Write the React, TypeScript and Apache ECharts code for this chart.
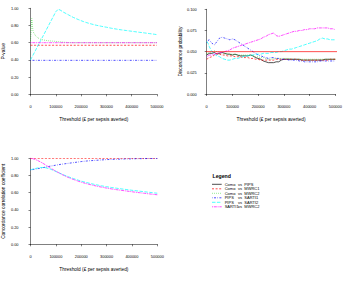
import React, { useEffect, useRef } from "react";
import * as echarts from "echarts";

// Willingness-to-pay thresholds (£ per sepsis averted)
const thresholds = [
  0, 5000, 10000, 20000, 30000, 40000, 50000, 60000, 70000, 80000, 90000,
  100000, 110000, 120000, 130000, 140000, 150000, 160000, 170000, 180000, 190000,
  200000, 210000, 220000, 230000, 240000, 250000, 260000, 270000, 280000, 290000,
  300000, 310000, 320000, 330000, 340000, 350000, 360000, 370000, 380000, 390000,
  400000, 410000, 420000, 430000, 440000, 450000, 460000, 470000, 480000, 490000,
  500000,
];

const comparisons = [
  "Como vs PIPS",
  "Como vs MWRC1",
  "Como vs MWRC2",
  "PIPS vs SARTI1",
  "PIPS vs SARTI2",
  "SARTI1 vs MWRC2",
];

const discordanceReference = 0.05;

// ---- P-value ----
const pValueComoMwrc1 = [
  0.57, 0.57, 0.57, 0.57, 0.57, 0.57, 0.57, 0.57, 0.57, 0.57, 0.57,
  0.57, 0.57, 0.57, 0.57, 0.57, 0.57, 0.57, 0.57, 0.57, 0.57,
  0.57, 0.57, 0.57, 0.57, 0.57, 0.57, 0.57, 0.57, 0.57, 0.57,
  0.57, 0.57, 0.57, 0.57, 0.57, 0.57, 0.57, 0.57, 0.57, 0.57,
  0.57, 0.57, 0.57, 0.57, 0.57, 0.57, 0.57, 0.57, 0.57, 0.57,
  0.57,
];
const pValueComoMwrc2 = [
  0.62, 0.88, 0.73, 0.68, 0.655, 0.64, 0.632, 0.627, 0.623, 0.62, 0.618,
  0.615, 0.612, 0.609, 0.606, 0.604, 0.602, 0.601, 0.6, 0.6, 0.6,
  0.6, 0.6, 0.6, 0.6, 0.6, 0.6, 0.6, 0.6, 0.6, 0.6,
  0.6, 0.6, 0.6, 0.6, 0.6, 0.6, 0.6, 0.6, 0.6, 0.6,
  0.6, 0.6, 0.6, 0.6, 0.6, 0.6, 0.6, 0.6, 0.6, 0.6,
  0.6,
];
const pValuePipsSarti1 = [
  0.395, 0.395, 0.395, 0.395, 0.395, 0.395, 0.395, 0.395, 0.395, 0.395, 0.395,
  0.395, 0.395, 0.395, 0.395, 0.395, 0.395, 0.395, 0.395, 0.395, 0.395,
  0.395, 0.395, 0.395, 0.395, 0.395, 0.395, 0.395, 0.395, 0.395, 0.395,
  0.395, 0.395, 0.395, 0.395, 0.395, 0.395, 0.395, 0.395, 0.395, 0.395,
  0.395, 0.395, 0.395, 0.395, 0.395, 0.395, 0.395, 0.395, 0.395, 0.395,
  0.395,
];
const pValuePipsSarti2 = [
  0.4, 0.428, 0.456, 0.512, 0.568, 0.624, 0.68, 0.736, 0.792, 0.848, 0.904,
  0.96, 0.99, 0.975, 0.955, 0.94, 0.924, 0.908, 0.893, 0.88, 0.868,
  0.856, 0.845, 0.835, 0.826, 0.818, 0.81, 0.803, 0.797, 0.791, 0.785,
  0.78, 0.774, 0.768, 0.763, 0.758, 0.753, 0.749, 0.745, 0.741, 0.737,
  0.733, 0.729, 0.725, 0.721, 0.718, 0.714, 0.71, 0.706, 0.702, 0.698,
  0.694,
];
const pValueSarti1Mwrc2 = [
  0.6, 0.6, 0.6, 0.6, 0.6, 0.6, 0.6, 0.6, 0.6, 0.6, 0.6,
  0.6, 0.6, 0.6, 0.6, 0.6, 0.6, 0.6, 0.6, 0.6, 0.6,
  0.6, 0.6, 0.6, 0.6, 0.6, 0.6, 0.6, 0.6, 0.6, 0.6,
  0.6, 0.6, 0.6, 0.6, 0.6, 0.6, 0.6, 0.6, 0.6, 0.6,
  0.6, 0.6, 0.6, 0.6, 0.6, 0.6, 0.6, 0.6, 0.6, 0.6,
  0.6,
];

// ---- Discordance probability ----
const discComoPips = [
  0.046, 0.047, 0.048, 0.048, 0.049, 0.047, 0.048, 0.049, 0.048, 0.047, 0.047,
  0.046, 0.047, 0.046, 0.045, 0.045, 0.045, 0.045, 0.046, 0.045, 0.043,
  0.042, 0.041, 0.039, 0.038, 0.037, 0.037, 0.037, 0.038, 0.038, 0.04,
  0.041, 0.041, 0.041, 0.041, 0.041, 0.041, 0.041, 0.04, 0.04, 0.04,
  0.04, 0.04, 0.04, 0.04, 0.04, 0.04, 0.041, 0.041, 0.041, 0.041,
  0.041,
];
const discComoMwrc1 = [
  0.041, 0.042, 0.043, 0.044, 0.046, 0.048, 0.047, 0.046, 0.046, 0.045, 0.045,
  0.045, 0.044, 0.044, 0.044, 0.043, 0.043, 0.043, 0.042, 0.042, 0.041,
  0.041, 0.04, 0.04, 0.04, 0.04, 0.04, 0.04, 0.041, 0.041, 0.041,
  0.041, 0.041, 0.041, 0.041, 0.041, 0.041, 0.04, 0.04, 0.04, 0.04,
  0.04, 0.04, 0.04, 0.04, 0.04, 0.04, 0.04, 0.04, 0.041, 0.041,
  0.041,
];
const discComoMwrc2 = [
  0.048, 0.048, 0.049, 0.05, 0.051, 0.05, 0.049, 0.049, 0.048, 0.048, 0.047,
  0.047, 0.047, 0.046, 0.046, 0.046, 0.046, 0.046, 0.046, 0.045, 0.044,
  0.044, 0.043, 0.043, 0.042, 0.041, 0.041, 0.042, 0.042, 0.042, 0.042,
  0.042, 0.042, 0.042, 0.041, 0.041, 0.041, 0.041, 0.041, 0.041, 0.041,
  0.041, 0.041, 0.041, 0.041, 0.041, 0.041, 0.041, 0.041, 0.041, 0.041,
  0.041,
];
const discPipsSarti1 = [
  0.061, 0.063, 0.064, 0.06, 0.058, 0.062, 0.066, 0.067, 0.066, 0.065, 0.064,
  0.065, 0.064, 0.062, 0.06, 0.058, 0.056, 0.054, 0.052, 0.05, 0.048,
  0.046, 0.045, 0.044, 0.043, 0.042, 0.043, 0.043, 0.042, 0.042, 0.041,
  0.041, 0.041, 0.04, 0.04, 0.04, 0.04, 0.039, 0.039, 0.038, 0.038,
  0.038, 0.038, 0.038, 0.038, 0.039, 0.039, 0.039, 0.039, 0.039, 0.039,
  0.039,
];
const discPipsSarti2 = [
  0.062, 0.06, 0.056, 0.05, 0.047, 0.045, 0.044, 0.042, 0.041, 0.04, 0.04,
  0.041, 0.042, 0.042, 0.043, 0.044, 0.045, 0.045, 0.046, 0.046, 0.047,
  0.047, 0.047, 0.048, 0.048, 0.048, 0.049, 0.049, 0.049, 0.05, 0.05,
  0.051, 0.052, 0.053, 0.053, 0.054, 0.055, 0.056, 0.057, 0.058, 0.059,
  0.06, 0.061, 0.062, 0.063, 0.065, 0.066, 0.065, 0.065, 0.064, 0.064,
  0.064,
];
const discSarti1Mwrc2 = [
  0.044, 0.045, 0.046, 0.046, 0.047, 0.048, 0.049, 0.049, 0.05, 0.051, 0.052,
  0.054, 0.055, 0.056, 0.057, 0.058, 0.059, 0.06, 0.061, 0.062, 0.063,
  0.064, 0.065, 0.067, 0.068, 0.07, 0.071, 0.072, 0.069, 0.068, 0.069,
  0.07, 0.071, 0.072, 0.073, 0.074, 0.074, 0.075, 0.075, 0.076, 0.076,
  0.077, 0.077, 0.077, 0.078, 0.078, 0.078, 0.078, 0.078, 0.077, 0.077,
  0.076,
];

// ---- Concordance correlation coefficient ----
const cccComoMwrc1 = [
  1, 1, 1, 1, 1, 1, 1, 1, 1, 1, 1,
  1, 1, 1, 1, 1, 1, 1, 1, 1, 1,
  1, 1, 1, 1, 1, 1, 1, 1, 1, 1,
  1, 1, 1, 1, 1, 1, 1, 1, 1, 1,
  1, 1, 1, 1, 1, 1, 1, 1, 1, 1,
  1,
];
const cccPipsSarti1 = [
  0.865, 0.867, 0.87, 0.875, 0.88, 0.886, 0.892, 0.898, 0.904, 0.91, 0.915,
  0.92, 0.925, 0.93, 0.934, 0.938, 0.942, 0.946, 0.95, 0.954, 0.958,
  0.962, 0.965, 0.968, 0.971, 0.973, 0.975, 0.977, 0.979, 0.981, 0.983,
  0.985, 0.986, 0.987, 0.988, 0.989, 0.99, 0.991, 0.992, 0.993, 0.993,
  0.994, 0.995, 0.995, 0.996, 0.996, 0.997, 0.997, 0.998, 0.998, 0.999,
  0.999,
];
const cccPipsSarti2 = [
  0.865, 0.87, 0.875, 0.882, 0.888, 0.892, 0.893, 0.89, 0.882, 0.872, 0.86,
  0.847, 0.834, 0.821, 0.808, 0.796, 0.785, 0.774, 0.764, 0.754, 0.744,
  0.735, 0.727, 0.719, 0.712, 0.705, 0.698, 0.692, 0.686, 0.68, 0.675,
  0.67, 0.665, 0.66, 0.656, 0.652, 0.648, 0.644, 0.64, 0.636, 0.632,
  0.628, 0.625, 0.621, 0.618, 0.614, 0.611, 0.607, 0.604, 0.6, 0.597,
  0.594,
];
const cccSarti1Mwrc2 = [
  1, 0.998, 0.995, 0.985, 0.972, 0.957, 0.94, 0.922, 0.903, 0.885, 0.867,
  0.85, 0.834, 0.818, 0.803, 0.789, 0.776, 0.764, 0.753, 0.742, 0.732,
  0.723, 0.714, 0.706, 0.698, 0.691, 0.684, 0.677, 0.671, 0.665, 0.659,
  0.654, 0.649, 0.644, 0.639, 0.635, 0.631, 0.627, 0.623, 0.619, 0.615,
  0.611, 0.607, 0.603, 0.6, 0.596, 0.593, 0.589, 0.586, 0.582, 0.579,
  0.576,
];

// R base palette with lty 1:6
const lineLook: Record<string, { color: string; dash: any }> = {
  "Como vs PIPS": { color: "#000000", dash: "solid" },
  "Como vs MWRC1": { color: "#FF0000", dash: [2, 1.6] },
  "Como vs MWRC2": { color: "#00CD00", dash: [0.6, 1.4] },
  "PIPS vs SARTI1": { color: "#0000FF", dash: [0.6, 1.4, 2, 1.4] },
  "PIPS vs SARTI2": { color: "#00FFFF", dash: [3.5, 1.4] },
  "SARTI1 vs MWRC2": { color: "#FF00FF", dash: [1, 0.8, 3, 0.8] },
};

const FONT = "'Liberation Sans', Arial, Helvetica, sans-serif";
const LINE_W = 0.7;

function curve(name: string, values: number[], idx: number) {
  const look = lineLook[name];
  return {
    type: "line",
    name,
    xAxisIndex: idx,
    yAxisIndex: idx,
    data: thresholds.map((t, i) => [t, values[i]]),
    symbol: "none",
    silent: true,
    lineStyle: { color: look.color, width: LINE_W, type: look.dash },
    itemStyle: { color: look.color },
  };
}

function xAxisFor(idx: number) {
  return {
    type: "value",
    gridIndex: idx,
    min: 0,
    max: 500000,
    interval: 100000,
    offset: 3,
    name: "Threshold (£ per sepsis averted)",
    nameLocation: "middle",
    nameGap: 19.5,
    nameTextStyle: { fontSize: 4.8, color: "#000", fontFamily: FONT },
    axisLine: { show: true, lineStyle: { color: "#000", width: 0.5 } },
    axisTick: { show: true, length: 2, lineStyle: { color: "#000", width: 0.5 } },
    axisLabel: {
      fontSize: 3.9,
      color: "#000",
      fontFamily: FONT,
      margin: 7.5,
      formatter: (v: number) => String(v),
      showMinLabel: true,
      showMaxLabel: true,
    },
    splitLine: { show: false },
  };
}

function yAxisFor(
  idx: number,
  name: string,
  max: number,
  interval: number,
  digits: number,
  offset: number
) {
  return {
    type: "value",
    gridIndex: idx,
    min: 0,
    max,
    interval,
    offset,
    name,
    nameLocation: "middle",
    nameGap: 17.5,
    nameTextStyle: { fontSize: 4.8, color: "#000", fontFamily: FONT },
    axisLine: { show: true, lineStyle: { color: "#000", width: 0.5 } },
    axisTick: { show: true, length: 2, lineStyle: { color: "#000", width: 0.5 } },
    axisLabel: {
      fontSize: 3.9,
      color: "#000",
      fontFamily: FONT,
      margin: 5,
      formatter: (v: number) => v.toFixed(digits),
      showMinLabel: true,
      showMaxLabel: true,
    },
    splitLine: { show: false },
  };
}

// Legend panel drawn R-style: a key line followed by three text columns
function legendGraphic() {
  const left = 212;
  const top = 184.3;
  const pitch = 4.5;
  const children: any[] = [
    {
      type: "text",
      x: 212.5,
      y: 175.5,
      style: {
        text: "Legend",
        fontSize: 5.2,
        fontWeight: "bold",
        fontFamily: FONT,
        fill: "#000",
        verticalAlign: "middle",
      },
    },
  ];
  comparisons.forEach((name, i) => {
    const y = top + i * pitch;
    const look = lineLook[name];
    const [a, b] = name.split(" vs ");
    children.push({
      type: "line",
      shape: { x1: left, y1: y, x2: left + 9.7, y2: y },
      style: {
        stroke: look.color,
        lineWidth: LINE_W,
        lineDash: look.dash === "solid" ? null : look.dash,
      },
    });
    [
      [a, 224.7],
      ["vs", 238],
      [b, 244.3],
    ].forEach(([t, x]) => {
      children.push({
        type: "text",
        x: x as number,
        y,
        style: {
          text: t as string,
          fontSize: 4,
          fontFamily: FONT,
          fill: "#000",
          verticalAlign: "middle",
        },
      });
    });
  });
  return [{ type: "group", children }];
}

export default function App() {
  const ref = useRef<HTMLDivElement>(null);

  useEffect(() => {
    if (!ref.current) return;
    const chart = echarts.init(ref.current, null, { renderer: "svg" });

    const series: any[] = [
      curve("Como vs MWRC1", pValueComoMwrc1, 0),
      curve("Como vs MWRC2", pValueComoMwrc2, 0),
      curve("PIPS vs SARTI1", pValuePipsSarti1, 0),
      curve("PIPS vs SARTI2", pValuePipsSarti2, 0),
      curve("SARTI1 vs MWRC2", pValueSarti1Mwrc2, 0),

      curve("Como vs PIPS", discComoPips, 1),
      curve("Como vs MWRC1", discComoMwrc1, 1),
      curve("Como vs MWRC2", discComoMwrc2, 1),
      curve("PIPS vs SARTI1", discPipsSarti1, 1),
      curve("PIPS vs SARTI2", discPipsSarti2, 1),
      curve("SARTI1 vs MWRC2", discSarti1Mwrc2, 1),
      {
        // reference line across the whole plotting region
        type: "line",
        name: "reference",
        xAxisIndex: 1,
        yAxisIndex: 1,
        data: [
          [-20000, discordanceReference],
          [520000, discordanceReference],
        ],
        clip: false,
        symbol: "none",
        silent: true,
        z: 5,
        lineStyle: { color: "#FF0000", width: LINE_W },
      },

      curve("Como vs MWRC1", cccComoMwrc1, 2),
      curve("PIPS vs SARTI1", cccPipsSarti1, 2),
      curve("PIPS vs SARTI2", cccPipsSarti2, 2),
      curve("SARTI1 vs MWRC2", cccSarti1Mwrc2, 2),
    ];

    chart.setOption({
      animation: false,
      backgroundColor: "#ffffff",
      textStyle: { fontFamily: FONT },
      grid: [
        { left: 30, top: 8.3, width: 127, height: 86 },
        { left: 206.7, top: 9.3, width: 128.6, height: 84.7 },
        { left: 30, top: 158.3, width: 127.3, height: 86 },
      ],
      xAxis: [xAxisFor(0), xAxisFor(1), xAxisFor(2)],
      yAxis: [
        yAxisFor(0, "P-value", 1, 0.2, 2, 7),
        yAxisFor(1, "Discordance probability", 0.1, 0.025, 3, 5),
        yAxisFor(2, "Concordance correlation coefficient", 1, 0.2, 2, 7),
      ],
      graphic: legendGraphic(),
      series,
    } as any);

    return () => chart.dispose();
  }, []);

  return (
    <div
      ref={ref}
      style={{ position: "absolute", left: 0, top: 0, width: 363, height: 281, background: "#fff" }}
    />
  );
}
